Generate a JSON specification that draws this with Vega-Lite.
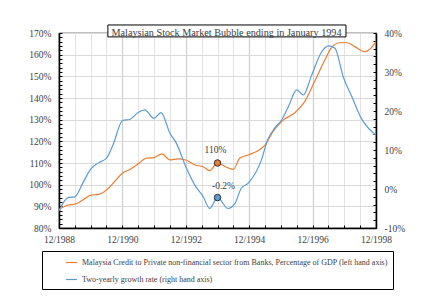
{
  "$schema": "https://vega.github.io/schema/vega-lite/v6.json",
  "width": 317,
  "height": 195,
  "autosize": {"type": "none"},
  "padding": {"left": 59, "top": 33, "right": 66, "bottom": 69},
  "background": "white",
  "title": {
    "text": "Malaysian Stock Market Bubble ending in January 1994",
    "font": "Liberation Serif",
    "fontSize": 10.2,
    "fontWeight": "normal",
    "color": "#404040",
    "anchor": "middle",
    "frame": "group",
    "offset": -14,
    "dx": 9
  },
  "config": {
    "view": {"stroke": "#000000", "strokeWidth": 1.2},
    "axis": {
      "labelFont": "Liberation Serif",
      "labelFontSize": 9.5,
      "labelColor": "#404040",
      "domainColor": "#000000",
      "domainWidth": 1.5,
      "tickColor": "#000000",
      "tickSize": -3,
      "tickCount": 200,
      "labelOverlap": false,
      "title": null,
      "gridColor": "#dcdcdc",
      "gridWidth": 1
    },
    "legend": {
      "orient": "none",
      "legendX": -17,
      "legendY": 218,
      "direction": "vertical",
      "strokeColor": "#000000",
      "fillColor": "#ffffff",
      "padding": 5,
      "symbolType": "stroke",
      "symbolStrokeWidth": 1.2,
      "symbolSize": 121,
      "symbolOffset": 18,
      "labelFont": "Liberation Serif",
      "labelFontSize": 8,
      "labelColor": "#404040",
      "labelLimit": 500,
      "rowPadding": 6,
      "title": null
    }
  },
  "datasets": {
    "credit": [
      {"date": "1988/12/01", "credit": 88.5},
      {"date": "1989/03/15", "credit": 90.6},
      {"date": "1989/06/01", "credit": 91.0},
      {"date": "1989/09/01", "credit": 92.9},
      {"date": "1989/12/01", "credit": 95.2},
      {"date": "1990/03/01", "credit": 95.5},
      {"date": "1990/06/01", "credit": 97.5},
      {"date": "1990/09/01", "credit": 101.4},
      {"date": "1990/12/01", "credit": 105.3},
      {"date": "1991/03/01", "credit": 107.1},
      {"date": "1991/06/01", "credit": 109.6},
      {"date": "1991/09/01", "credit": 112.2},
      {"date": "1991/12/01", "credit": 112.5},
      {"date": "1992/03/01", "credit": 114.2},
      {"date": "1992/06/01", "credit": 111.4},
      {"date": "1992/09/01", "credit": 111.9},
      {"date": "1992/12/01", "credit": 111.4},
      {"date": "1993/03/15", "credit": 109.1},
      {"date": "1993/06/20", "credit": 108.3},
      {"date": "1993/09/01", "credit": 106.5},
      {"date": "1993/12/01", "credit": 110.0},
      {"date": "1994/03/01", "credit": 108.3},
      {"date": "1994/06/01", "credit": 107.1},
      {"date": "1994/08/15", "credit": 112.2},
      {"date": "1994/11/20", "credit": 113.7},
      {"date": "1995/06/01", "credit": 118.3},
      {"date": "1995/09/01", "credit": 124.5},
      {"date": "1996/01/01", "credit": 129.9},
      {"date": "1996/05/10", "credit": 133.2},
      {"date": "1996/09/01", "credit": 138.3},
      {"date": "1997/01/01", "credit": 148.3},
      {"date": "1997/04/20", "credit": 157.5},
      {"date": "1997/07/01", "credit": 162.9},
      {"date": "1997/10/10", "credit": 165.5},
      {"date": "1998/01/01", "credit": 165.5},
      {"date": "1998/04/01", "credit": 163.7},
      {"date": "1998/07/25", "credit": 161.4},
      {"date": "1998/09/20", "credit": 162.5},
      {"date": "1998/12/01", "credit": 166.0}
    ],
    "growth": [
      {"date": "1988/12/01", "growth": -5.6},
      {"date": "1989/03/15", "growth": -2.2},
      {"date": "1989/06/01", "growth": -2.0},
      {"date": "1989/09/01", "growth": 1.5},
      {"date": "1989/12/01", "growth": 5.1},
      {"date": "1990/03/01", "growth": 6.7},
      {"date": "1990/06/01", "growth": 7.9},
      {"date": "1990/08/15", "growth": 11.3},
      {"date": "1990/12/01", "growth": 17.5},
      {"date": "1991/03/01", "growth": 17.9},
      {"date": "1991/06/01", "growth": 19.6},
      {"date": "1991/08/15", "growth": 20.3},
      {"date": "1991/12/01", "growth": 18.1},
      {"date": "1992/02/20", "growth": 19.6},
      {"date": "1992/06/01", "growth": 14.3},
      {"date": "1992/08/15", "growth": 11.7},
      {"date": "1992/12/01", "growth": 5.7},
      {"date": "1993/03/15", "growth": 1.0},
      {"date": "1993/06/20", "growth": -2.0},
      {"date": "1993/09/01", "growth": -5.0},
      {"date": "1993/12/01", "growth": -2.2},
      {"date": "1994/04/01", "growth": -5.0},
      {"date": "1994/06/20", "growth": -3.7},
      {"date": "1994/09/01", "growth": 0.2},
      {"date": "1994/11/20", "growth": 1.5},
      {"date": "1995/04/20", "growth": 7.4},
      {"date": "1995/07/01", "growth": 12.6},
      {"date": "1995/09/20", "growth": 15.6},
      {"date": "1995/12/10", "growth": 17.7},
      {"date": "1996/02/25", "growth": 21.1},
      {"date": "1996/06/01", "growth": 25.4},
      {"date": "1996/08/15", "growth": 24.1},
      {"date": "1996/11/20", "growth": 29.2},
      {"date": "1997/03/15", "growth": 35.2},
      {"date": "1997/06/01", "growth": 36.7},
      {"date": "1997/08/15", "growth": 36.1},
      {"date": "1997/11/18", "growth": 28.8},
      {"date": "1998/02/25", "growth": 23.7},
      {"date": "1998/06/15", "growth": 18.1},
      {"date": "1998/12/01", "growth": 13.8}
    ],
    "creditNote": [
      {"date": "1993/12/01", "credit": 110.0, "label": "110%"}
    ],
    "growthNote": [
      {"date": "1993/12/01", "growth": -2.2, "label": "-0.2%"}
    ]
  },
  "layer": [
    {
      "layer": [
        {
          "data": {"name": "credit"},
          "mark": {"type": "line", "interpolate": "monotone", "strokeWidth": 1.2},
          "encoding": {
            "x": {
              "field": "date",
              "type": "temporal",
              "scale": {"domain": [{"year": 1988, "month": 12, "date": 1}, {"year": 1998, "month": 12, "date": 1}]},
              "axis": {
                "orient": "bottom",
                "values": [
                  {"year": 1988, "month": 12, "date": 1}, {"year": 1989, "month": 6, "date": 1},
                  {"year": 1989, "month": 12, "date": 1}, {"year": 1990, "month": 6, "date": 1},
                  {"year": 1990, "month": 12, "date": 1}, {"year": 1991, "month": 6, "date": 1},
                  {"year": 1991, "month": 12, "date": 1}, {"year": 1992, "month": 6, "date": 1},
                  {"year": 1992, "month": 12, "date": 1}, {"year": 1993, "month": 6, "date": 1},
                  {"year": 1993, "month": 12, "date": 1}, {"year": 1994, "month": 6, "date": 1},
                  {"year": 1994, "month": 12, "date": 1}, {"year": 1995, "month": 6, "date": 1},
                  {"year": 1995, "month": 12, "date": 1}, {"year": 1996, "month": 6, "date": 1},
                  {"year": 1996, "month": 12, "date": 1}, {"year": 1997, "month": 6, "date": 1},
                  {"year": 1997, "month": 12, "date": 1}, {"year": 1998, "month": 6, "date": 1},
                  {"year": 1998, "month": 12, "date": 1}
                ],
                "tickCount": 200,
                "labelExpr": "month(datum.value) == 11 && year(datum.value) % 2 == 0 ? timeFormat(datum.value, '%m/%Y') : ''",
                "labelPadding": 9,
                "labelFlush": false,
                "labelOverlap": false,
                "grid": true,
                "gridColor": {"condition": {"test": "month(datum.value) == 11 && year(datum.value) % 2 == 0", "value": "#d2d2d2"}, "value": "#e3e3e3"},
                "gridWidth": {"condition": {"test": "month(datum.value) == 11 && year(datum.value) % 2 == 0", "value": 1.3}, "value": 1}
              }
            },
            "y": {
              "field": "credit",
              "type": "quantitative",
              "scale": {"domain": [80, 170], "zero": false},
              "axis": {
                "orient": "left",
                "values": [80,82,84,86,88,90,92,94,96,98,100,102,104,106,108,110,112,114,116,118,120,122,124,126,128,130,132,134,136,138,140,142,144,146,148,150,152,154,156,158,160,162,164,166,168,170],
                "tickCount": 200,
                "labelExpr": "datum.value % 10 == 0 ? datum.value + '%' : ''",
                "labelOverlap": false,
                "labelPadding": 11,
                "grid": true,
                "gridColor": "#d9d9d9",
                "gridOpacity": {"condition": {"test": "datum.value % 10 == 0", "value": 1}, "value": 0}
              }
            },
            "color": {
              "datum": "Malaysia Credit to Private non-financial sector from Banks, Percentage of GDP (left hand axis)",
              "type": "nominal",
              "scale": {
                "domain": [
                  "Malaysia Credit to Private non-financial sector from Banks, Percentage of GDP (left hand axis)",
                  "Two-yearly growth rate (right hand axis)"
                ],
                "range": ["#ED7D31", "#5B9BD5"]
              }
            }
          }
        },
        {
          "data": {"values": [{}]},
          "mark": {"type": "rect", "fill": "#ffffff", "stroke": "#000000", "strokeWidth": 1, "clip": false},
          "encoding": {
            "x": {"datum": {"year": 1990, "month": 6, "date": 17}, "type": "temporal"},
            "x2": {"datum": {"year": 1997, "month": 12, "date": 20}},
            "y": {"datum": 173.7, "type": "quantitative"},
            "y2": {"datum": 168.2}
          }
        },
        {
          "data": {"name": "creditNote"},
          "mark": {"type": "point", "filled": true, "size": 42, "fill": "#ED7D31", "stroke": "#303030", "strokeWidth": 1, "opacity": 1},
          "encoding": {
            "x": {"field": "date", "type": "temporal"},
            "y": {"field": "credit", "type": "quantitative"}
          }
        },
        {
          "data": {"name": "creditNote"},
          "mark": {"type": "text", "font": "Liberation Serif", "fontSize": 9.5, "color": "#404040", "dx": -2, "dy": -13},
          "encoding": {
            "x": {"field": "date", "type": "temporal"},
            "y": {"field": "credit", "type": "quantitative"},
            "text": {"field": "label"}
          }
        }
      ]
    },
    {
      "layer": [
        {
          "data": {"name": "growth"},
          "mark": {"type": "line", "interpolate": "monotone", "strokeWidth": 1.2},
          "encoding": {
            "x": {"field": "date", "type": "temporal"},
            "y": {
              "field": "growth",
              "type": "quantitative",
              "scale": {"domain": [-10, 40], "zero": false},
              "axis": {
                "orient": "right",
                "values": [-10,-8,-6,-4,-2,0,2,4,6,8,10,12,14,16,18,20,22,24,26,28,30,32,34,36,38,40],
                "tickCount": 200,
                "labelExpr": "datum.value % 10 == 0 ? datum.value + '%' : ''",
                "labelOverlap": false,
                "labelPadding": 11,
                "grid": false
              }
            },
            "color": {"datum": "Two-yearly growth rate (right hand axis)", "type": "nominal"}
          }
        },
        {
          "data": {"name": "growthNote"},
          "mark": {"type": "point", "filled": true, "size": 42, "fill": "#5B9BD5", "stroke": "#303030", "strokeWidth": 1, "opacity": 1},
          "encoding": {
            "x": {"field": "date", "type": "temporal"},
            "y": {"field": "growth", "type": "quantitative"}
          }
        },
        {
          "data": {"name": "growthNote"},
          "mark": {"type": "text", "font": "Liberation Serif", "fontSize": 9.5, "color": "#404040", "dx": 6, "dy": -12},
          "encoding": {
            "x": {"field": "date", "type": "temporal"},
            "y": {"field": "growth", "type": "quantitative"},
            "text": {"field": "label"}
          }
        }
      ]
    }
  ],
  "resolve": {"scale": {"y": "independent"}}
}
